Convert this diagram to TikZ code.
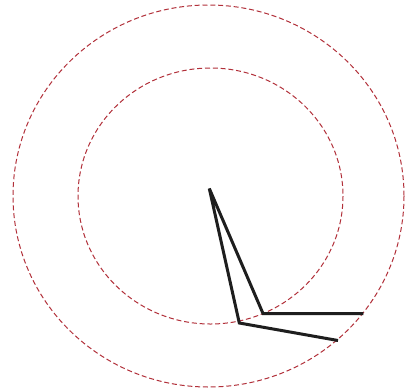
\documentclass[tikz,border=0pt]{standalone}
\begin{document}
\begin{tikzpicture}[x=1pt,y=-1pt,
  ring/.style={draw={rgb,255:red,178;green,48;blue,58},line width=1pt,dash pattern=on 5pt off 2.8pt},
  arm/.style={draw={rgb,255:red,30;green,30;blue,30},line width=3pt,line join=miter}]
\useasboundingbox (0,0) rectangle (406,389);
\fill[white] (0,0) rectangle (406,389);
\draw[ring] (208.5,196) ellipse [x radius=195.5, y radius=191];
\draw[ring] (210.5,196) ellipse [x radius=132.5, y radius=128];
\coordinate (apex) at (209.3,188.5);
\coordinate (a) at (263,313.5);
\coordinate (b) at (239.3,323);
\coordinate (c) at (363.3,313.5);
\coordinate (d) at (338,340.5);
\draw[arm] (c) -- (a) -- (apex) -- (b) -- (d);
\end{tikzpicture}
\end{document}
